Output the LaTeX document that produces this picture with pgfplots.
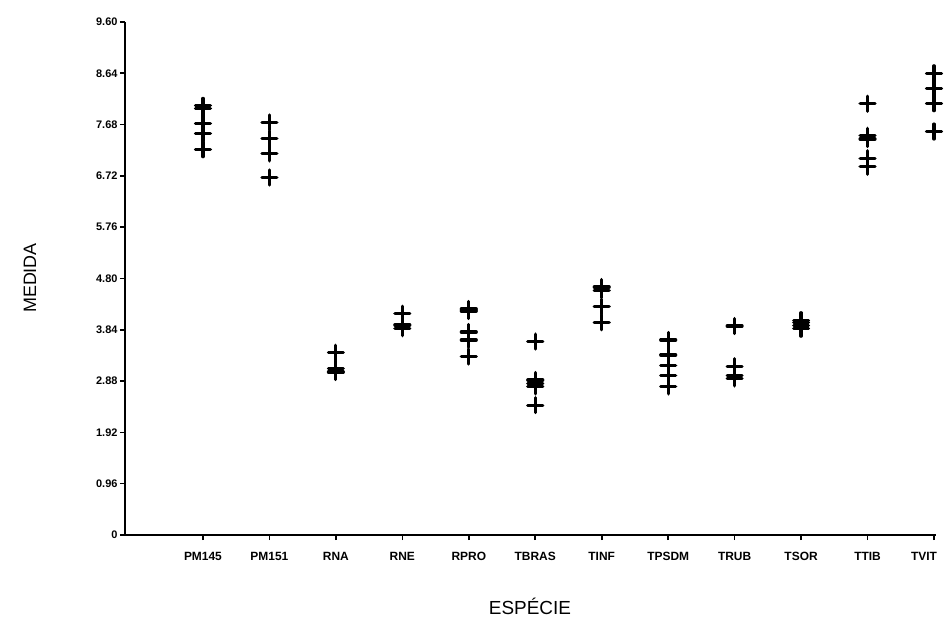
\documentclass[border=0pt]{standalone}
\usepackage{fontspec}
\setmainfont{Liberation Sans}
\usepackage{pgfplots}
\pgfplotsset{compat=1.18}
\usepackage{pgfplotstable}
\pgfplotstableread{
x y
1 8.03
1 7.98
1 7.70
1 7.52
1 7.22
2 7.72
2 7.42
2 7.14
2 6.69
3 3.41
3 3.12
3 3.05
4 4.14
4 3.93
4 3.87
5 4.23
5 4.19
5 3.80
5 3.65
5 3.34
6 3.62
6 2.90
6 2.84
6 2.78
6 2.43
7 4.64
7 4.58
7 4.27
7 3.98
8 3.65
8 3.37
8 3.17
8 2.98
8 2.78
9 3.91
9 3.16
9 2.99
9 2.93
10 4.02
10 3.97
10 3.92
10 3.86
11 8.07
11 7.47
11 7.41
11 7.05
11 6.89
12 8.64
12 8.35
12 8.08
12 7.55
}\datatable
\begin{document}
\begin{tikzpicture}
\path[use as bounding box] (-125bp,-86bp) rectangle (820bp,535bp);
\begin{axis}[
  at={(0,0)}, anchor=south west,
  scale only axis,
  width=811bp, height=513bp,
  xmin=-0.173, xmax=12.03,
  ymin=0, ymax=9.6,
  axis lines*=left,
  axis line style={line width=2.8bp, black},
  xtick={1,...,12},
  xticklabels={PM145,PM151,RNA,RNE,RPRO,TBRAS,TINF,TPSDM,TRUB,TSOR,TTIB,\hspace*{-20bp}TVIT},
  ytick={0,0.96,1.92,2.88,3.84,4.80,5.76,6.72,7.68,8.64,9.60},
  yticklabels={0,0.96,1.92,2.88,3.84,4.80,5.76,6.72,7.68,8.64,9.60},
  tick align=outside,
  major tick length=5bp,
  tick style={line width=1.6bp, black},
  xticklabel style={font=\fontsize{12}{14}\selectfont\bfseries, yshift=-9bp},
  yticklabel style={font=\fontsize{11}{13}\selectfont\bfseries, xshift=1bp},
  clip=false,
]
\addplot[only marks, mark=+, mark size=7.5bp, line width=3.2bp, line cap=round, black] table[x=x, y=y] {\datatable};
\end{axis}
\node[rotate=90, font=\fontsize{18}{21}\selectfont] at (-95bp,257bp) {MEDIDA};
\node[font=\fontsize{19}{22}\selectfont] at (405bp,-71bp) {ESPÉCIE};
\end{tikzpicture}
\end{document}
